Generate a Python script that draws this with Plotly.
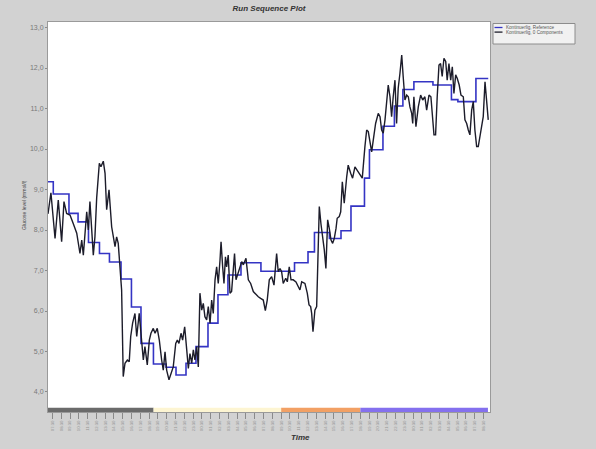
import plotly.graph_objects as go

# Continuous glucose readings: (minutes from start, mmol/l)
black_readings = [
    (0, 8.40), (20, 8.92), (48, 7.79), (70, 8.74), (93, 7.71), (109, 8.70), (127, 8.41),
    (150, 8.37), (172, 8.16), (196, 7.92), (218, 7.42), (230, 7.75), (241, 7.38), (264, 8.45),
    (275, 8.00), (286, 8.70), (309, 7.38), (320, 7.83), (332, 8.80), (350, 9.65), (361, 9.56),
    (377, 9.70), (389, 9.40), (400, 8.50), (416, 8.99), (434, 8.08), (457, 7.59), (468, 7.83),
    (479, 7.67), (491, 7.18), (502, 6.52), (513, 4.38), (525, 4.71), (541, 4.79), (554, 4.75),
    (564, 5.37), (577, 5.70), (593, 5.94), (605, 5.37), (622, 5.94), (639, 5.28), (650, 4.79),
    (661, 5.12), (677, 4.67), (691, 5.28), (702, 5.45), (718, 5.57), (730, 5.45), (745, 5.57),
    (759, 5.28), (775, 4.79), (786, 4.54), (798, 4.99), (809, 4.54), (825, 4.30), (839, 4.46),
    (854, 4.62), (871, 5.20), (882, 5.28), (893, 5.20), (907, 5.45), (918, 5.28), (932, 5.61),
    (946, 5.04), (957, 4.58), (968, 4.95), (980, 4.71), (991, 5.04), (1002, 4.79), (1014, 5.12),
    (1025, 4.62), (1036, 6.44), (1048, 6.02), (1059, 6.19), (1070, 5.86), (1082, 5.78),
    (1093, 6.11), (1105, 5.70), (1116, 6.27), (1127, 5.94), (1139, 6.77), (1150, 7.09),
    (1161, 6.68), (1173, 7.26), (1180, 7.71), (1191, 7.09), (1200, 6.68), (1210, 7.34),
    (1218, 7.09), (1229, 7.38), (1241, 6.44), (1252, 6.48), (1263, 6.90), (1272, 7.42),
    (1282, 6.77), (1297, 6.97), (1321, 7.22), (1332, 7.14), (1350, 7.30), (1366, 6.77),
    (1382, 6.68), (1400, 6.48), (1418, 6.40), (1434, 6.35), (1450, 6.31), (1468, 6.27),
    (1482, 6.01), (1495, 6.27), (1509, 6.77), (1525, 6.85), (1541, 6.64), (1559, 7.42),
    (1570, 6.97), (1582, 7.05), (1593, 6.97), (1604, 6.68), (1621, 6.81), (1632, 6.72),
    (1645, 7.09), (1657, 6.77), (1672, 6.77), (1691, 6.72), (1707, 6.60), (1718, 6.52),
    (1730, 6.72), (1752, 6.68), (1768, 6.44), (1780, 6.15), (1791, 6.11), (1798, 5.94),
    (1807, 5.49), (1820, 6.02), (1832, 6.11), (1841, 7.09), (1850, 8.58), (1861, 8.16),
    (1873, 7.83), (1884, 7.51), (1895, 7.05), (1907, 8.25), (1918, 8.04), (1930, 7.75),
    (1941, 7.67), (1952, 7.79), (1964, 8.04), (1972, 8.29), (1986, 8.33), (1996, 8.45),
    (2007, 9.19), (2020, 8.66), (2037, 9.32), (2047, 9.60), (2064, 9.40), (2077, 9.28),
    (2093, 9.56), (2109, 9.48), (2127, 9.36), (2143, 9.28), (2161, 10.06), (2173, 10.47),
    (2184, 10.43), (2195, 10.14), (2207, 9.93), (2218, 10.22), (2234, 10.63), (2252, 10.88),
    (2264, 10.80), (2275, 10.47), (2286, 10.39), (2298, 10.72), (2320, 11.58), (2332, 11.29),
    (2343, 10.80), (2354, 11.29), (2366, 11.70), (2377, 10.63), (2388, 11.50), (2400, 11.87),
    (2412, 12.32), (2422, 11.79), (2434, 11.21), (2446, 11.33), (2457, 11.29), (2468, 11.04),
    (2480, 10.88), (2487, 10.63), (2495, 11.29), (2509, 10.55), (2525, 11.04), (2541, 11.33),
    (2555, 11.21), (2570, 11.29), (2582, 10.96), (2598, 11.33), (2611, 11.29), (2632, 10.35),
    (2643, 10.35), (2654, 11.29), (2666, 12.07), (2677, 12.11), (2688, 11.79), (2700, 12.24),
    (2712, 12.16), (2722, 11.70), (2734, 12.11), (2746, 11.70), (2757, 12.03), (2768, 11.37),
    (2780, 11.83), (2791, 11.74), (2804, 11.58), (2816, 11.33), (2832, 11.29), (2843, 10.72),
    (2855, 10.63), (2866, 10.47), (2877, 10.35), (2889, 10.96), (2900, 11.17), (2911, 10.47),
    (2923, 10.06), (2934, 10.06), (2950, 10.39), (2968, 10.80), (2980, 11.66), (2991, 11.13),
    (3002, 10.72),
]
black_t = [t for t, _ in black_readings]
black_v = [v for _, v in black_readings]

# Reference curve: step changes (minutes, level)
ref_t = [0, 36, 143, 205, 276, 351, 419, 498, 569, 634, 719, 805, 873, 941, 1009, 1091,
         1159, 1227, 1316, 1452, 1681, 1773, 1817, 1919, 1998, 2066, 2158, 2192, 2284,
         2362, 2420, 2495, 2625, 2751, 2795, 2918, 3002]
ref_v = [9.19, 8.89, 8.41, 8.20, 7.69, 7.42, 7.21, 6.79, 6.10, 5.20, 4.69, 4.61, 4.42,
         4.71, 5.12, 5.70, 6.40, 6.89, 7.19, 6.98, 7.19, 7.46, 7.94, 7.79, 7.98, 8.59,
         9.28, 9.98, 10.56, 11.06, 11.47, 11.66, 11.58, 11.22, 11.17, 11.74, 11.74]

# Phase segments along the time axis
seg_start = [0, 720, 1590, 2130]
seg_end = [720, 1590, 2130, 3000]
seg_color = ["#6b6b6b", "#fdf5d2", "#f2a064", "#8470ee"]

# Time axis ticks (half past each hour)
tick_vals = [30 + 60 * k for k in range(50)]
tick_text = ["%02d:30" % ((7 + k) % 24) for k in range(50)]

y_ticks = [4, 5, 6, 7, 8, 9, 10, 11, 12, 13]
y_text = ["%d,0" % v for v in y_ticks]

series_names = ["Kontinuerlig, Reference", "Kontinuerlig, 0 Components"]
series_colors = ["#3434c4", "#1c1c2a"]

W, H = 596, 449
ML, MR, MT, MB = 48, 106, 22, 37
PW, PH = W - ML - MR, H - MT - MB


def px_x(px):
    """Horizontal pixel position -> paper coordinate."""
    return (px - ML) / PW


def px_y(py):
    """Vertical pixel position -> paper coordinate."""
    return (H - MB - py) / PH


fig = go.Figure()
fig.add_trace(go.Scatter(
    x=ref_t, y=ref_v, mode="lines", line_shape="hv",
    line=dict(color=series_colors[0], width=1.6), name=series_names[0]))
fig.add_trace(go.Scatter(
    x=black_t, y=black_v, mode="lines",
    line=dict(color=series_colors[1], width=1.4), name=series_names[1]))

for s0, s1, c in zip(seg_start, seg_end, seg_color):
    fig.add_shape(type="rect", xref="x", yref="paper", x0=s0, x1=s1, y0=0, y1=0.011,
                  fillcolor=c, line_width=0, layer="above")

# Compact legend box in the right margin
fig.add_shape(type="rect", xref="paper", yref="paper",
              x0=px_x(493), x1=px_x(575), y0=px_y(44), y1=px_y(23.5),
              fillcolor="#f1f1f1", line=dict(color="#8c8c8c", width=1))
for i, (name, col) in enumerate(zip(series_names, series_colors)):
    row_y = 27.5 + 4.6 * i
    fig.add_shape(type="line", xref="paper", yref="paper",
                  x0=px_x(494.5), x1=px_x(502.5), y0=px_y(row_y), y1=px_y(row_y),
                  line=dict(color=col, width=1.3))
    fig.add_annotation(text=name, xref="paper", yref="paper", x=px_x(504), y=px_y(row_y),
                       xanchor="left", yanchor="middle", showarrow=False,
                       font=dict(size=4.6, color="#555555"))

fig.update_layout(
    width=W, height=H,
    margin=dict(l=ML, r=MR, t=MT, b=MB),
    paper_bgcolor="#d2d2d2", plot_bgcolor="#ffffff",
    font=dict(family="Liberation Sans, Arial, sans-serif", color="#6e6e6e"),
    title=dict(text="<b><i>Run Sequence Plot</i></b>", x=0.5, xref="paper",
               y=1 - 8 / H, yanchor="middle", font=dict(size=8, color="#333333")),
    showlegend=False,
)
fig.update_xaxes(range=[0, 3014], tickmode="array", tickvals=tick_vals, ticktext=tick_text,
                 tickangle=-90, tickfont=dict(size=4.2, color="#959595"),
                 ticks="outside", ticklen=6, tickcolor="#8a8a8a",
                 showgrid=False, zeroline=False, showline=True, linecolor="#9a9a9a",
                 mirror=True)
fig.update_yaxes(range=[3.506, 13.136], tickmode="array", tickvals=y_ticks, ticktext=y_text,
                 tickfont=dict(size=7, color="#7a7a7a"), ticks="outside", ticklen=2,
                 tickcolor="#8a8a8a", showgrid=False, zeroline=False, showline=True,
                 linecolor="#9a9a9a", mirror=True)

fig.add_annotation(text="<b><i>Time</i></b>", xref="paper", yref="paper",
                   x=px_x(300), y=px_y(444), showarrow=False,
                   font=dict(size=8, color="#333333"))
fig.add_annotation(text="Glucose level (mmol/l)", xref="paper", yref="paper",
                   x=px_x(19), y=px_y(205), textangle=-90, showarrow=False,
                   font=dict(size=5, color="#444444"))

fig.write_html("out.html")
